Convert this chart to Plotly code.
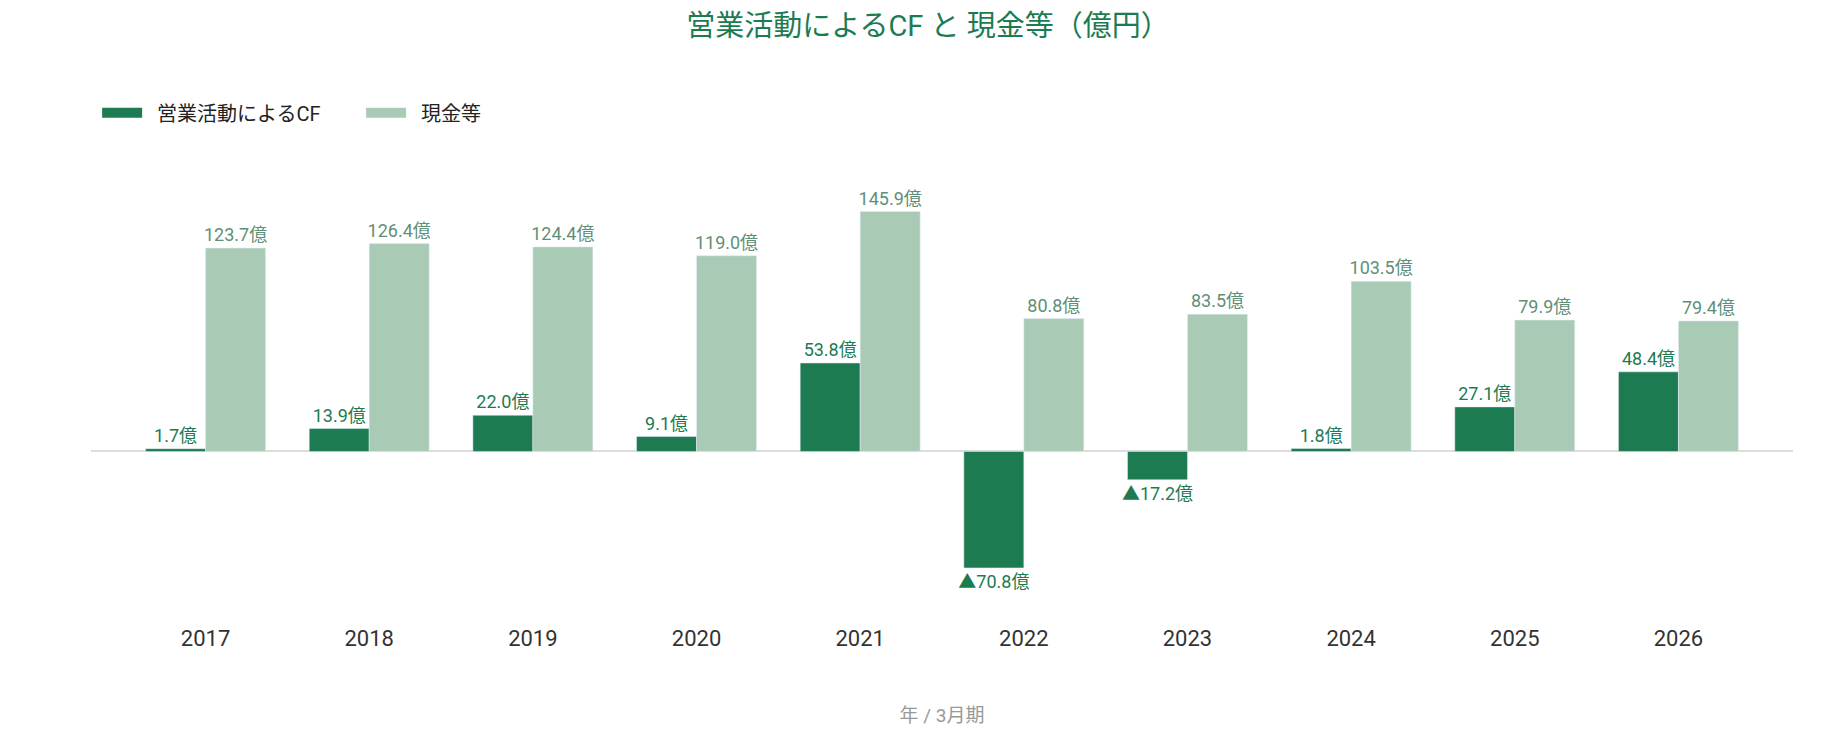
import plotly.graph_objects as go

years = ["2017", "2018", "2019", "2020", "2021", "2022", "2023", "2024", "2025", "2026"]
operating_cf = [1.7, 13.9, 22.0, 9.1, 53.8, -70.8, -17.2, 1.8, 27.1, 48.4]
cash = [123.7, 126.4, 124.4, 119.0, 145.9, 80.8, 83.5, 103.5, 79.9, 79.4]

dark_green = "#1d7b52"
light_green = "#a9cbb6"
font_family = "Roboto, Noto Sans CJK JP, sans-serif"


def fmt(v):
    # negative values are shown with a triangle mark
    if v < 0:
        return f"▲{abs(v):.1f}億"
    return f"{v:.1f}億"


fig = go.Figure()
fig.add_trace(go.Bar(
    x=years,
    y=operating_cf,
    name="営業活動によるCF",
    marker_color=dark_green,
    text=[fmt(v) for v in operating_cf],
    textposition="outside",
    textfont=dict(size=18, color=dark_green),
    constraintext="none",
    cliponaxis=False,
    showlegend=False,
))
fig.add_trace(go.Bar(
    x=years,
    y=cash,
    name="現金等",
    marker_color=light_green,
    text=[fmt(v) for v in cash],
    textposition="outside",
    textfont=dict(size=18, color="#5f8f77"),
    constraintext="none",
    cliponaxis=False,
    showlegend=False,
))

# legend entries drawn as thick line swatches (wide rectangles)
# nbsp adds the gap between swatch and label
for name, color in [("営業活動によるCF", dark_green), ("現金等", light_green)]:
    fig.add_trace(go.Scatter(
        x=[None], y=[None],
        mode="lines",
        name="\u00a0\u00a0" + name,
        line=dict(color=color, width=14),
        hoverinfo="skip",
    ))

fig.update_layout(
    width=1840,
    height=736,
    barmode="group",
    bargap=0.267,
    bargroupgap=0,
    plot_bgcolor="white",
    paper_bgcolor="white",
    font=dict(family=font_family, size=16, color="#333333"),
    title=dict(
        text="営業活動によるCF と 現金等（億円）",
        x=0.5,
        xanchor="center",
        y=0.976,
        yanchor="middle",
        font=dict(size=29, color=dark_green),
    ),
    legend=dict(
        orientation="h",
        x=0.0036,
        xanchor="left",
        y=1.173,
        yanchor="middle",
        font=dict(size=20, color="#222222"),
        itemwidth=40,
        entrywidth=209,
        entrywidthmode="pixels",
    ),
    margin=dict(l=83, r=55, t=180, b=121),
    showlegend=True,
)
fig.update_xaxes(
    type="category",
    range=[-0.7, 9.7],
    showgrid=False,
    showline=False,
    ticks="",
    tickfont=dict(size=22, color="#333333"),
    title=dict(text="年 / 3月期", font=dict(size=19, color="#999999"), standoff=58),
)
fig.update_yaxes(
    range=[-104.3, 160.2],
    showgrid=False,
    showticklabels=False,
    zeroline=True,
    zerolinecolor="#dddddd",
    zerolinewidth=2,
)

fig.write_html("out.html")
